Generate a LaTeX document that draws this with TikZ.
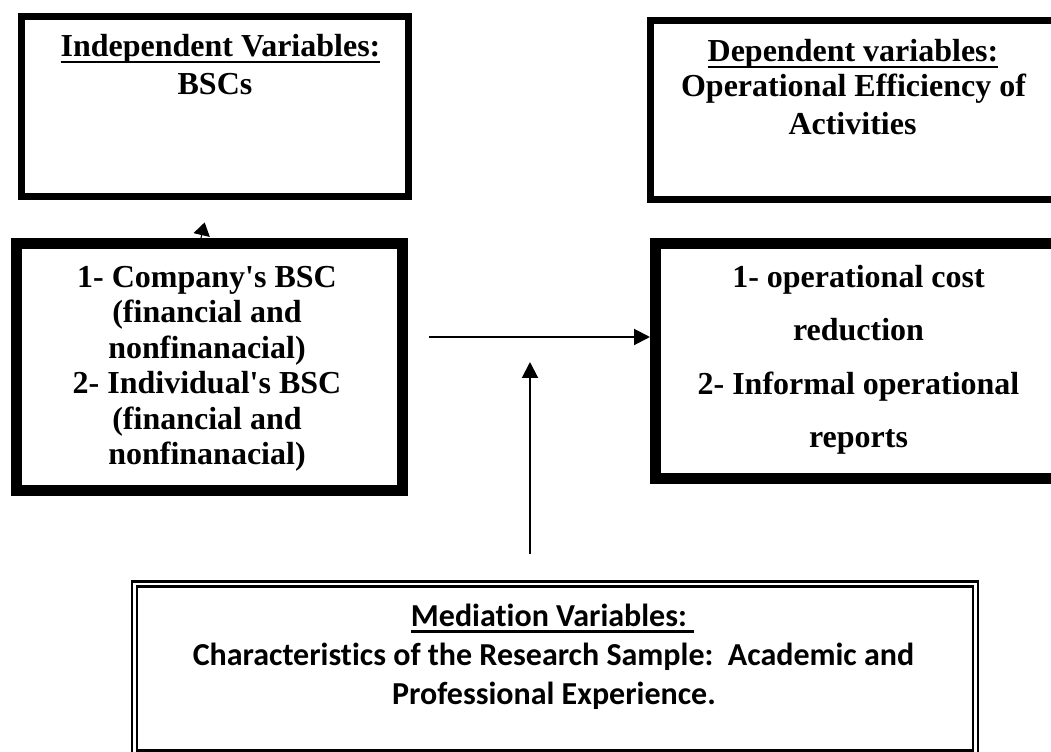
\documentclass[tikz,border=0pt]{standalone}
\usepackage{fontspec}
\setmainfont{Liberation Serif}
\newfontfamily\calib[Ligatures=NoCommon]{Carlito}
\usetikzlibrary{arrows.meta}
\newcommand\myul[1]{\setbox0\hbox{#1}\rlap{\rule[-4.5pt]{\wd0}{1.5pt}}\box0}
\newcommand\myulc[1]{\setbox0\hbox{#1}\rlap{\rule[-5pt]{\wd0}{1.8pt}}\box0}
\tikzset{
  tnr/.style={font=\fontsize{24}{28}\selectfont\bfseries, inner sep=0pt, anchor=base},
  cal/.style={font={\calib\fontsize{24}{28}\selectfont\bfseries}, inner sep=0pt, anchor=base},
  thinbox/.style={draw, line width=5.25pt, inner sep=0pt},
  thickbox/.style={draw, line width=8.25pt, inner sep=0pt},
  medbox/.style={draw, double, line width=1.875pt, double distance=1.95pt, inner sep=0pt},
  conn/.style={line width=1.5pt, -{Triangle[length=12pt,width=12pt]}},
  smalltip/.style={line width=0.8pt, -{Triangle[length=9.75pt,width=12.4pt]}}
}
\begin{document}
\begin{tikzpicture}[x=0.75pt,y=-0.75pt]
\useasboundingbox (0,0) rectangle (1051,752);
% boxes
\node[thinbox, minimum width=290.25pt, minimum height=135pt] (tl) at (215,106.5) {};
\node[thinbox, minimum width=306.75pt, minimum height=134.25pt] (tr) at (855,110) {};
\node[thickbox, minimum width=289.5pt, minimum height=185.25pt] (ml) at (209.5,367) {};
\node[thickbox, minimum width=303.75pt, minimum height=176.25pt] (mr) at (858,361) {};
\node[medbox, minimum width=630.75pt, minimum height=126.6pt] (med) at (555,668.6) {};
% texts top-left
\node[tnr] (tlA) at (220.5,57) {\myul{Independent Variables:}};
\node[tnr] (tlB) at (215,95) {BSCs};
% texts top-right
\node[tnr] (trA) at (853,62) {\myul{Dependent variables:}};
\node[tnr] (trB) at (853.5,97) {Operational Efficiency of};
\node[tnr] (trC) at (852.5,135) {Activities};
% texts middle-left
\node[tnr] (mlA) at (207,287.5) {1- Company\textquotesingle s BSC};
\node[tnr] (mlB) at (207,323) {(financial and};
\node[tnr] (mlC) at (207,358.5) {nonfinanacial)};
\node[tnr] (mlD) at (207,394) {2- Individual\textquotesingle s BSC};
\node[tnr] (mlE) at (207,429.5) {(financial and};
\node[tnr] (mlF) at (207,465) {nonfinanacial)};
% texts middle-right
\node[tnr] (mrA) at (858.5,288) {1- operational cost};
\node[tnr] (mrB) at (858.5,341) {reduction};
\node[tnr] (mrC) at (858.5,395) {2- Informal operational};
\node[tnr] (mrD) at (858.5,448) {reports};
% texts bottom
\node[cal] (medA) at (552.5,626) {\myulc{Mediation Variables:\ }};
\node[cal] (medB) at (553.5,665) {Characteristics of the Research Sample:\ \ Academic and};
\node[cal] (medC) at (554,704) {Professional Experience.};
% connectors
\coordinate (hstart) at (429,337);
\draw[conn] (hstart) -- (hstart -| mr.west);
\coordinate (vstart) at (530,554);
\coordinate (vend) at (530,362);
\draw[conn] (vstart) -- (vend);
\draw[smalltip] ([xshift=-6.4pt]ml.north) -- ++(3.7,-15.6);
\end{tikzpicture}
\end{document}
